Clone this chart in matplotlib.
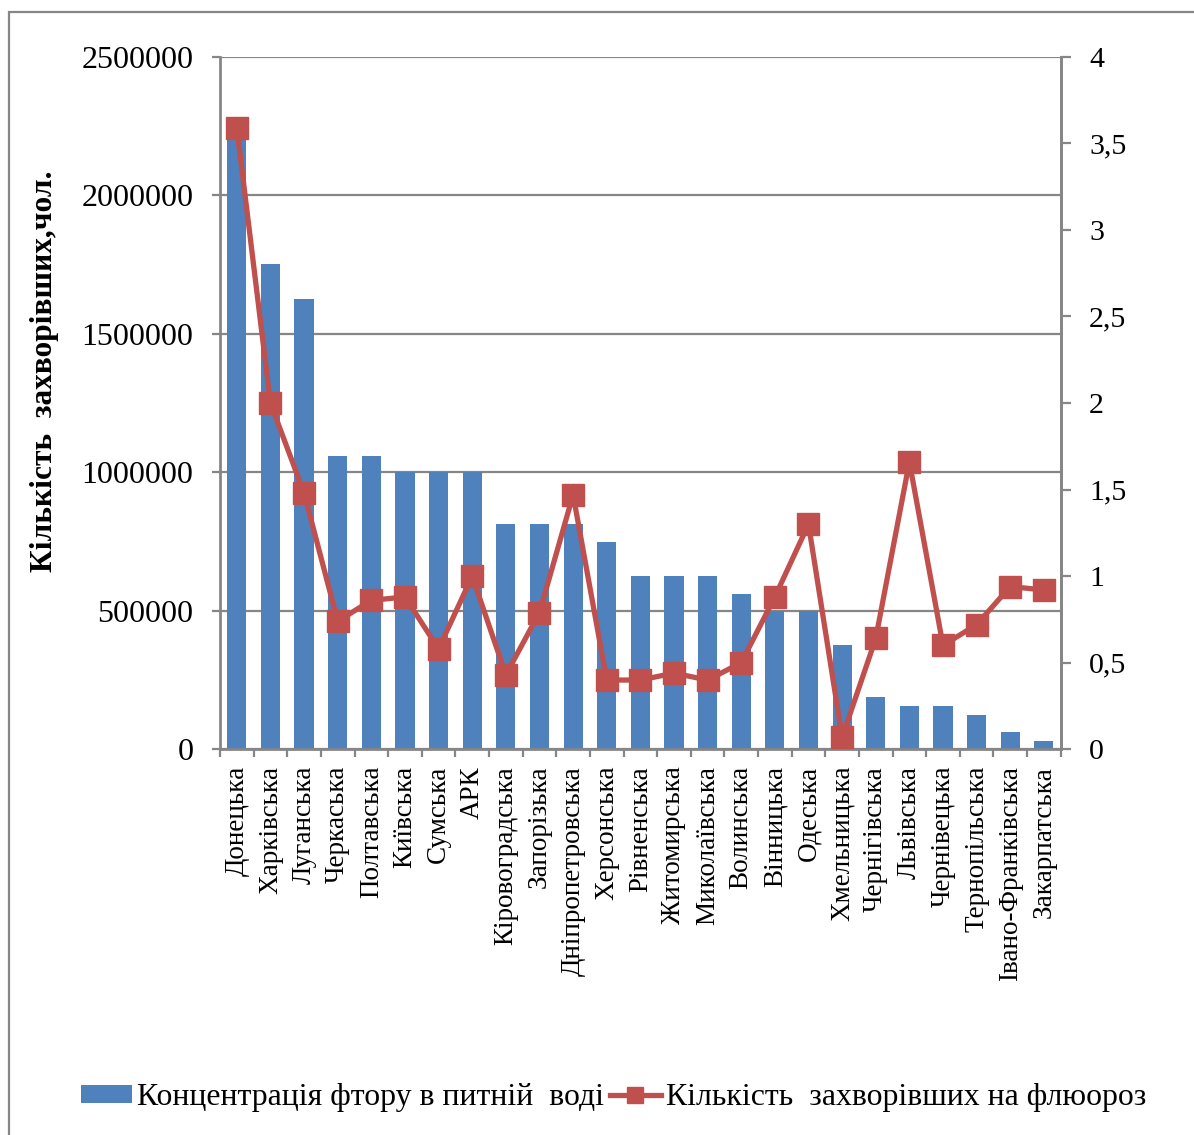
import numpy as np
import matplotlib
matplotlib.use("Agg")
import matplotlib.pyplot as plt
from matplotlib.ticker import FixedLocator, FuncFormatter
from matplotlib.lines import Line2D
from matplotlib.patches import Patch, Rectangle

# Regions of Ukraine
regions = [
    "Донецька", "Харківська", "Луганська", "Черкаська", "Полтавська",
    "Київська", "Сумська", "АРК", "Кіровоградська", "Запорізька",
    "Дніпропетровська", "Херсонська", "Рівненська", "Житомирська",
    "Миколаївська", "Волинська", "Вінницька", "Одеська", "Хмельницька",
    "Чернігівська", "Львівська", "Чернівецька", "Тернопільська",
    "Івано-Франківська", "Закарпатська",
]

# Left axis series (bars)
fluoride = [
    2250000, 1750000, 1625000, 1060000, 1060000,
    1000000, 1000000, 1000000, 812000, 812000,
    812000, 750000, 625000, 625000,
    625000, 562000, 500000, 500000, 375000,
    187000, 157000, 157000, 125000,
    62000, 31000,
]

# Right axis series (line)
cases = [
    3.59, 2.00, 1.48, 0.74, 0.86,
    0.88, 0.58, 1.00, 0.43, 0.79,
    1.47, 0.40, 0.40, 0.44,
    0.40, 0.50, 0.88, 1.30, 0.07,
    0.64, 1.66, 0.60, 0.72,
    0.94, 0.92,
]

left_ticks = [0, 500000, 1000000, 1500000, 2000000, 2500000]
right_ticks = [0, 0.5, 1, 1.5, 2, 2.5, 3, 3.5, 4]

label_bars = "Концентрація фтору в питній  воді"
label_line = "Кількість  захворівших на флюороз"
y_label = "Кількість  захворівших,чол."

BAR_COLOR = "#4F81BD"
LINE_COLOR = "#C0504D"
GRAY = "#868686"

plt.rcParams["font.family"] = ["Liberation Serif", "DejaVu Serif"]

W, H = 1194, 1135
fig = plt.figure(figsize=(W / 100, H / 100), dpi=100)

# chart border
fig.add_artist(Rectangle((9 / W, -0.05), 1.2, (H - 12) / H + 0.05,
                         transform=fig.transFigure, fill=False,
                         edgecolor=GRAY, lw=1.6))

x0, x1, ytop, ybot = 220, 1060.7, 56.7, 749.3
ax = fig.add_axes([x0 / W, 1 - ybot / H, (x1 - x0) / W, (ybot - ytop) / H])

x = np.arange(len(regions))
ax.bar(x, fluoride, width=0.57, color=BAR_COLOR, zorder=2)
ax.set_xlim(-0.5, len(regions) - 0.5)
ax.set_ylim(0, 2500000)
ax.yaxis.set_major_locator(FixedLocator(left_ticks))
ax.yaxis.set_major_formatter(FuncFormatter(lambda v, p: f"{int(v)}"))
ax.yaxis.grid(True, color=GRAY, lw=1.6, zorder=0)
ax.set_axisbelow(True)

ax.set_xticks(x)
ax.set_xticklabels(regions, rotation=90, va="top", ha="center")
ax.set_xticks(np.arange(-0.5, len(regions), 1.0), minor=True)
ax.tick_params(axis="x", which="major", length=0, pad=12, labelsize=19.5)
ax.tick_params(axis="x", which="minor", length=6, width=1.6, color=GRAY)
ax.tick_params(axis="y", length=6, width=1.6, color=GRAY, pad=13,
               labelsize=23)

for s in ("left", "right", "bottom"):
    ax.spines[s].set_color(GRAY)
    ax.spines[s].set_linewidth(2)
ax.spines["top"].set_visible(False)

ax2 = ax.twinx()
ax2.plot(x, cases, color=LINE_COLOR, lw=3.8, marker="s", ms=15.5,
         zorder=3, solid_joinstyle="miter")
ax2.set_ylim(0, 4)
ax2.yaxis.set_major_locator(FixedLocator(right_ticks))
ax2.yaxis.set_major_formatter(
    FuncFormatter(lambda v, p: (f"{v:g}").replace(".", ",")))
ax2.tick_params(axis="y", length=7.5, width=1.6, color=GRAY, pad=13,
                labelsize=21.5)
for s in ("left", "top", "bottom"):
    ax2.spines[s].set_visible(False)
ax2.spines["right"].set_color(GRAY)
ax2.spines["right"].set_linewidth(2)

fig.text(45 / W, 1 - 371 / H, y_label, rotation=90, ha="center",
         va="center", fontsize=22.6, fontweight="bold")

handles = [
    Patch(facecolor=BAR_COLOR, edgecolor="none"),
    Line2D([0], [0], color=LINE_COLOR, lw=3.8, marker="s", ms=12),
]
fig.legend(handles, [label_bars, label_line], loc="center left",
           bbox_to_anchor=(81 / W, 1 - 1098 / H), ncol=2, frameon=False,
           fontsize=22.9, handlelength=1.6, handleheight=0.48,
           handletextpad=0.17, columnspacing=0.17, borderpad=0,
           borderaxespad=0)

fig.savefig("out.png", dpi=100)
